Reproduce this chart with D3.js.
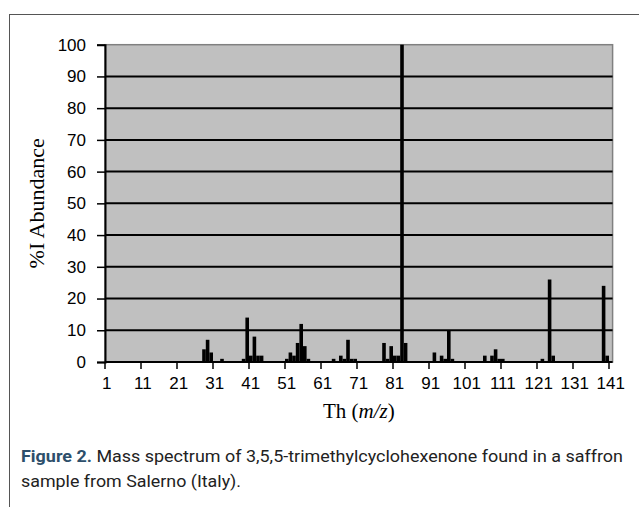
<!DOCTYPE html>
<html>
<head>
<meta charset="utf-8">
<script src="https://cdn.jsdelivr.net/npm/d3@7"></script>
<style>
  html, body { margin: 0; padding: 0; background: #ffffff; }
  svg { display: block; }
</style>
</head>
<body>
<svg id="chart" width="639" height="507"></svg>
<script>
// ---- data ----
const categoryCount = 141;                       // m/z categories 1..141
const peakCategory  = [28, 29, 30, 33, 39, 40, 41, 42, 43, 44, 51, 52, 53, 54, 55, 56, 57,
                       64, 66, 67, 68, 69, 70, 78, 79, 80, 81, 82, 83, 84, 92, 94, 95, 96, 97,
                       106, 108, 109, 110, 111, 122, 124, 125, 139, 140];
const peakAbundance = [4, 7, 3, 1, 1, 14, 2, 8, 2, 2, 1, 3, 2, 6, 12, 5, 1,
                       1, 2, 1, 7, 1, 1, 6, 1, 5, 2, 2, 100, 6, 3, 2, 1, 10, 1,
                       2, 2, 4, 1, 1, 1, 26, 2, 24, 2];
const xTickLabels = ["1", "11", "21", "31", "41", "51", "61", "71", "81", "91", "101", "111", "121", "131", "141"];
const yTickValues = [0, 10, 20, 30, 40, 50, 60, 70, 80, 90, 100];
const yTitle = "%I Abundance";
const captionBold = "Figure 2.";
const captionLine1 = " Mass spectrum of 3,5,5-trimethylcyclohexenone found in a saffron";
const captionLine2 = "sample from Salerno (Italy).";

// ---- layout ----
const svg = d3.select("#chart");
const plot = { left: 105, right: 612.6, top: 44.7, bottom: 362 };
const sansFont = "'Liberation Sans', Arial, Helvetica, sans-serif";
const serifFont = "'Liberation Serif', 'Times New Roman', Times, serif";
const capFont = "'Liberation Sans Narrow', 'Arial Narrow', 'Roboto', sans-serif";

const categories = d3.range(1, categoryCount + 1).map(String);
const x = d3.scaleBand().domain(categories).range([plot.left, plot.right]).padding(0);
const y = d3.scaleLinear().domain([0, 100]).range([plot.bottom, plot.top]);

// outer frame
svg.append("rect")
  .attr("x", 9.5).attr("y", 14.5).attr("width", 640).attr("height", 600)
  .attr("fill", "none").attr("stroke", "#555").attr("stroke-width", 1);

// plot background
svg.append("rect")
  .attr("x", plot.left).attr("y", plot.top)
  .attr("width", plot.right - plot.left).attr("height", plot.bottom - plot.top)
  .attr("fill", "#c0c0c0").attr("stroke", "#808080").attr("stroke-width", 1.5);

// gridlines
svg.append("g")
  .selectAll("line")
  .data(yTickValues.filter(v => v > 0 && v < 100))
  .join("line")
  .attr("x1", plot.left).attr("x2", plot.right)
  .attr("y1", d => y(d)).attr("y2", d => y(d))
  .attr("stroke", "#000").attr("stroke-width", 2);

// bars
svg.append("g")
  .selectAll("rect")
  .data(peakCategory.map((c, i) => ({ c: String(c), v: peakAbundance[i] })))
  .join("rect")
  .attr("x", d => x(d.c))
  .attr("width", x.bandwidth())
  .attr("y", d => y(d.v))
  .attr("height", d => y(0) - y(d.v))
  .attr("fill", "#000");

// y axis
const yAxis = d3.axisLeft(y).tickValues(yTickValues).tickSize(8).tickPadding(11);
const gy = svg.append("g").attr("transform", `translate(${plot.left},0)`).call(yAxis);
gy.select(".domain").attr("stroke", "#000").attr("stroke-width", 2);
gy.selectAll(".tick line").attr("stroke", "#000").attr("stroke-width", 1.5);
gy.selectAll(".tick text")
  .attr("font-family", sansFont)
  .attr("font-size", 17).attr("fill", "#000");

// x axis (category axis, ticks between categories every 10)
const gx = svg.append("g").attr("transform", `translate(0,${plot.bottom})`);
gx.append("line")
  .attr("x1", plot.left).attr("x2", plot.right)
  .attr("y1", 0).attr("y2", 0)
  .attr("stroke", "#000").attr("stroke-width", 2);
gx.selectAll(".xt")
  .data(xTickLabels)
  .join("line")
  .attr("class", "xt")
  .attr("x1", d => x(d)).attr("x2", d => x(d))
  .attr("y1", 0).attr("y2", 7)
  .attr("stroke", "#000").attr("stroke-width", 1.5);
gx.selectAll(".xl")
  .data(xTickLabels)
  .join("text")
  .attr("class", "xl")
  .attr("x", d => x(d) + x.bandwidth() / 2)
  .attr("y", 27)
  .attr("text-anchor", "middle")
  .attr("font-family", sansFont)
  .attr("font-size", 17).attr("fill", "#000")
  .text(d => d);

// y title
svg.append("text")
  .attr("transform", `translate(44,${(plot.top + plot.bottom) / 2}) rotate(-90)`)
  .attr("text-anchor", "middle")
  .attr("font-family", serifFont)
  .attr("font-size", 22).attr("fill", "#000")
  .text(yTitle);

// x title
const xt = svg.append("text")
  .attr("x", (plot.left + plot.right) / 2).attr("y", 418)
  .attr("text-anchor", "middle")
  .attr("font-family", serifFont)
  .attr("font-size", 21).attr("fill", "#000");
xt.append("tspan").text("Th (");
xt.append("tspan").attr("font-style", "italic").text("m/z");
xt.append("tspan").text(")");

// caption
const cap = svg.append("text")
  .attr("x", 21).attr("y", 462)
  .attr("font-family", capFont)
  .attr("font-size", 17).attr("fill", "#222")
  .attr("textLength", 602).attr("lengthAdjust", "spacingAndGlyphs");
cap.append("tspan").attr("font-weight", "bold").attr("fill", "#2d4f6b").text(captionBold);
cap.append("tspan").text(captionLine1);

svg.append("text")
  .attr("x", 21).attr("y", 487)
  .attr("font-family", capFont)
  .attr("font-size", 17).attr("fill", "#222")
  .attr("textLength", 220).attr("lengthAdjust", "spacingAndGlyphs")
  .text(captionLine2);
</script>
</body>
</html>
